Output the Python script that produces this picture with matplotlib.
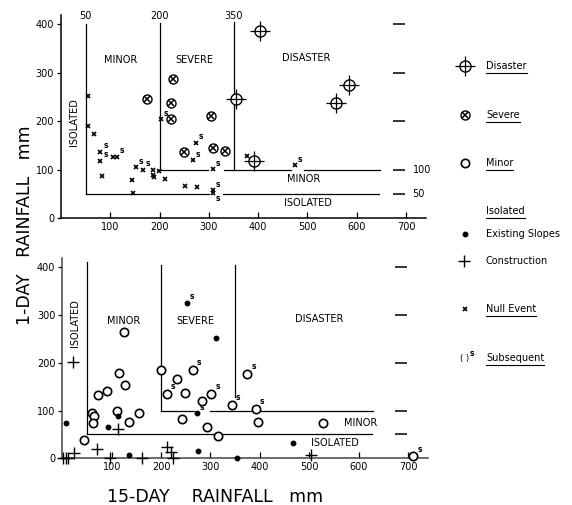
import matplotlib
matplotlib.use("Agg")
import matplotlib.pyplot as plt

plt.rcParams['font.family'] = ['DejaVu Sans']

# region boundaries, mm
ISOLATED_15 = 50
SEVERE_15 = 200
DISASTER_15 = 350
MINOR_1 = 50
SEVERE_1 = 100

x_ticks = [100, 200, 300, 400, 500, 600, 700]
y_ticks = [0, 100, 200, 300, 400]
side_ticks = [50, 100, 200, 300, 400]

# ---- upper panel (events) ----
top_disaster_x = [404, 356, 558, 585, 391]
top_disaster_y = [386, 247, 238, 275, 119]

top_severe_x = [175, 227, 224, 224, 304, 249, 309, 333]
top_severe_y = [247, 287, 238, 204, 211, 137, 144, 139]

# s flag: 1 = subsequent (mark above right), 2 = subsequent (mark below right)
top_null_x = [54, 54, 66, 80, 80, 83, 106, 113, 145, 147, 152, 166, 186, 186, 189,
              199, 211, 203, 252, 275, 274, 268, 308, 308, 308, 378, 475]
top_null_y = [252, 190, 173, 137, 119, 87, 127, 127, 79, 52, 105, 100, 100, 89, 86,
              98, 82, 204, 67, 64, 156, 120, 101, 58, 52, 128, 110]
top_null_s = [0, 0, 0, 1, 1, 0, 0, 1, 0, 0, 1, 1, 0, 0, 0,
              0, 0, 1, 0, 0, 1, 1, 1, 1, 2, 0, 1]

# ---- lower panel ----
minor_x = [43, 60, 65, 63, 72, 90, 110, 115, 125, 127, 135, 155, 199, 211, 232,
           242, 248, 264, 282, 292, 302, 315, 343, 374, 392, 397, 528, 710]
minor_y = [38, 94, 89, 73, 133, 140, 100, 179, 265, 154, 75, 94, 184, 135, 167,
           82, 136, 185, 121, 65, 135, 47, 112, 176, 103, 75, 74, 4]
minor_s = [0, 0, 0, 0, 0, 0, 0, 0, 0, 0, 0, 0, 0, 1, 0,
           0, 0, 1, 0, 0, 1, 0, 1, 1, 1, 0, 0, 1]

slope_x = [7, 92, 113, 136, 253, 311, 272, 275, 353, 467]
slope_y = [74, 66, 89, 7, 326, 251, 94, 16, 0, 32]
slope_s = [0, 0, 0, 0, 1, 0, 1, 0, 0, 0]

constr_x = [22, 2, 7, 12, 24, 71, 97, 112, 162, 211, 221, 225, 503]
constr_y = [202, 0, 0, 0, 12, 19, 0, 61, 0, 24, 14, 0, 6]

# boundary line segments (x0, x1, y0, y1), broken where the scan breaks them
top_lines = [
    (ISOLATED_15, ISOLATED_15, MINOR_1, 400),
    (SEVERE_15, SEVERE_15, SEVERE_1, 402),
    (DISASTER_15, DISASTER_15, SEVERE_1, 404),
    (SEVERE_15, 298, SEVERE_1, SEVERE_1),
    (330, 466, SEVERE_1, SEVERE_1),
    (492, 647, SEVERE_1, SEVERE_1),
    (ISOLATED_15, 300, MINOR_1, MINOR_1),
    (328, 645, MINOR_1, MINOR_1),
]
bottom_lines = [
    (ISOLATED_15, ISOLATED_15, MINOR_1, 412),
    (SEVERE_15, SEVERE_15, SEVERE_1, 405),
    (DISASTER_15, DISASTER_15, 129, 404),
    (SEVERE_15, 266, SEVERE_1, SEVERE_1),
    (300, 630, SEVERE_1, SEVERE_1),
    (ISOLATED_15, 628, MINOR_1, MINOR_1),
]


def disaster(ax, xs, ys):
    ax.plot(xs, ys, 'o', ms=8, mfc='white', mec='k', mew=1.0, ls='none', zorder=4, clip_on=False)
    ax.plot(xs, ys, '+', ms=15, mec='k', mew=0.9, ls='none', zorder=5, clip_on=False)


def severe(ax, xs, ys):
    ax.plot(xs, ys, 'o', ms=6.5, mfc='white', mec='k', mew=1.0, ls='none', zorder=4, clip_on=False)
    ax.plot(xs, ys, 'x', ms=5, mec='k', mew=1.1, ls='none', zorder=5, clip_on=False)


def minor(ax, xs, ys):
    ax.plot(xs, ys, 'o', ms=6, mfc='white', mec='k', mew=1.2, ls='none', zorder=4, clip_on=False)


def slope(ax, xs, ys):
    ax.plot(xs, ys, 'o', ms=3.2, mfc='k', mec='k', ls='none', zorder=4, clip_on=False)


def construction(ax, xs, ys):
    ax.plot(xs, ys, '+', ms=9, mec='k', mew=1.0, ls='none', zorder=4, clip_on=False)


def null(ax, xs, ys):
    ax.plot(xs, ys, 'x', ms=3.4, mec='k', mew=1.2, ls='none', zorder=4, clip_on=False)


def subsequent(ax, xs, ys, flags, dx, dy):
    for x, y, f in zip(xs, ys, flags):
        if f == 1:
            ax.annotate('s', (x, y), xytext=(dx, dy), textcoords='offset points',
                        fontsize=5.5, fontweight='bold', ha='left', va='bottom', zorder=6,
                        annotation_clip=False)
        elif f == 2:
            ax.annotate('s', (x, y), xytext=(dx, -1), textcoords='offset points',
                        fontsize=5.5, fontweight='bold', ha='left', va='top', zorder=6,
                        annotation_clip=False)


def style_axes(ax, spine_color):
    ax.set_xlim(0, 740)
    ax.set_ylim(0, 420)
    for side in ['top', 'right']:
        ax.spines[side].set_visible(False)
    for side in ['left', 'bottom']:
        ax.spines[side].set_color(spine_color)
        ax.spines[side].set_linewidth(1.1)
    ax.set_xticks(x_ticks)
    ax.set_yticks(y_ticks)
    ax.tick_params(axis='x', direction='in', length=4, width=0.9, labelsize=7, pad=3)
    ax.tick_params(axis='y', direction='out', length=3, width=0.9, labelsize=7, pad=2)
    ax.patch.set_visible(False)
    # dashes on the right-hand side
    ax.plot([686] * len(side_ticks), side_ticks, '_', ms=8, mew=1.1, color='k', clip_on=False)


def draw_lines(ax, segs):
    for x0, x1, y0, y1 in segs:
        ax.plot([x0, x1], [y0, y1], color='k', lw=0.9, zorder=2, clip_on=False)


fig = plt.figure(figsize=(5.72, 5.05), dpi=100)

ax1 = fig.add_axes([0.1066, 0.5677, 0.6378, 0.4034])
style_axes(ax1, 'k')
draw_lines(ax1, top_lines)
for v in [ISOLATED_15, SEVERE_15, DISASTER_15]:
    ax1.text(v, 417, str(v), fontsize=7, ha='center', va='center', clip_on=False)
ax1.text(713, SEVERE_1, '100', fontsize=7, ha='left', va='center', clip_on=False)
ax1.text(713, MINOR_1, '50', fontsize=7, ha='left', va='center', clip_on=False)
ax1.text(120, 326, 'MINOR', fontsize=7, ha='center', va='center')
ax1.text(270, 326, 'SEVERE', fontsize=7, ha='center', va='center')
ax1.text(498, 330, 'DISASTER', fontsize=7, ha='center', va='center')
ax1.text(492, 81, 'MINOR', fontsize=7, ha='center', va='center')
ax1.text(500, 31, 'ISOLATED', fontsize=7, ha='center', va='center')
ax1.text(26, 199, 'ISOLATED', fontsize=7, ha='center', va='center', rotation=90)
null(ax1, top_null_x, top_null_y)
subsequent(ax1, top_null_x, top_null_y, top_null_s, 2, 1)
severe(ax1, top_severe_x, top_severe_y)
disaster(ax1, top_disaster_x, top_disaster_y)

ax2 = fig.add_axes([0.1089, 0.0925, 0.639, 0.3971])
style_axes(ax2, '#444444')
draw_lines(ax2, bottom_lines)
ax2.text(125, 288, 'MINOR', fontsize=7, ha='center', va='center')
ax2.text(270, 288, 'SEVERE', fontsize=7, ha='center', va='center')
ax2.text(520, 291, 'DISASTER', fontsize=7, ha='center', va='center')
ax2.text(603, 74, 'MINOR', fontsize=7, ha='center', va='center')
ax2.text(552, 32, 'ISOLATED', fontsize=7, ha='center', va='center')
ax2.text(25, 284, 'ISOLATED', fontsize=7, ha='center', va='center', rotation=90)
minor(ax2, minor_x, minor_y)
subsequent(ax2, minor_x, minor_y, minor_s, 3, 2)
slope(ax2, slope_x, slope_y)
subsequent(ax2, slope_x, slope_y, slope_s, 2, 1)
construction(ax2, constr_x, constr_y)

# axis titles
fig.text(25 / 572, 1 - 225 / 505, '1-DAY   RAINFALL   mm', fontsize=12.5,
         rotation=90, ha='center', va='center')
fig.text(215 / 572, 8 / 505, '15-DAY    RAINFALL   mm', fontsize=12.5,
         ha='center', va='center')

# key, drawn in pixel coordinates
key = fig.add_axes([0, 0, 1, 1])
key.set_xlim(0, 572)
key.set_ylim(505, 0)
key.axis('off')
key.patch.set_visible(False)
disaster(key, [465], [66])
severe(key, [465], [115])
minor(key, [465], [163])
slope(key, [465], [234])
construction(key, [464], [261])
null(key, [465], [309])
key.text(465, 358, '( )', fontsize=6, ha='center', va='center')
key.text(470, 354, 's', fontsize=5.5, fontweight='bold', ha='left', va='center')

underlined = []
for label, y, ul in [('Disaster', 66, True), ('Severe', 115, True), ('Minor', 163, True),
                     ('Isolated', 211, True), ('Existing Slopes', 234, False),
                     ('Construction', 261, False), ('Null Event', 309, True),
                     ('Subsequent', 358, True)]:
    t = key.text(486, y, label, fontsize=7, ha='left', va='center')
    if ul:
        underlined.append(t)

fig.canvas.draw()
renderer = fig.canvas.get_renderer()
inv = key.transData.inverted()
for t in underlined:
    bb = t.get_window_extent(renderer)
    (x0, y0), (x1, y1) = inv.transform([(bb.x0, bb.y0), (bb.x1, bb.y1)])
    key.plot([x0, x1], [y0 + 1.5, y0 + 1.5], color='k', lw=0.8)

fig.savefig('out.png', dpi=100)
